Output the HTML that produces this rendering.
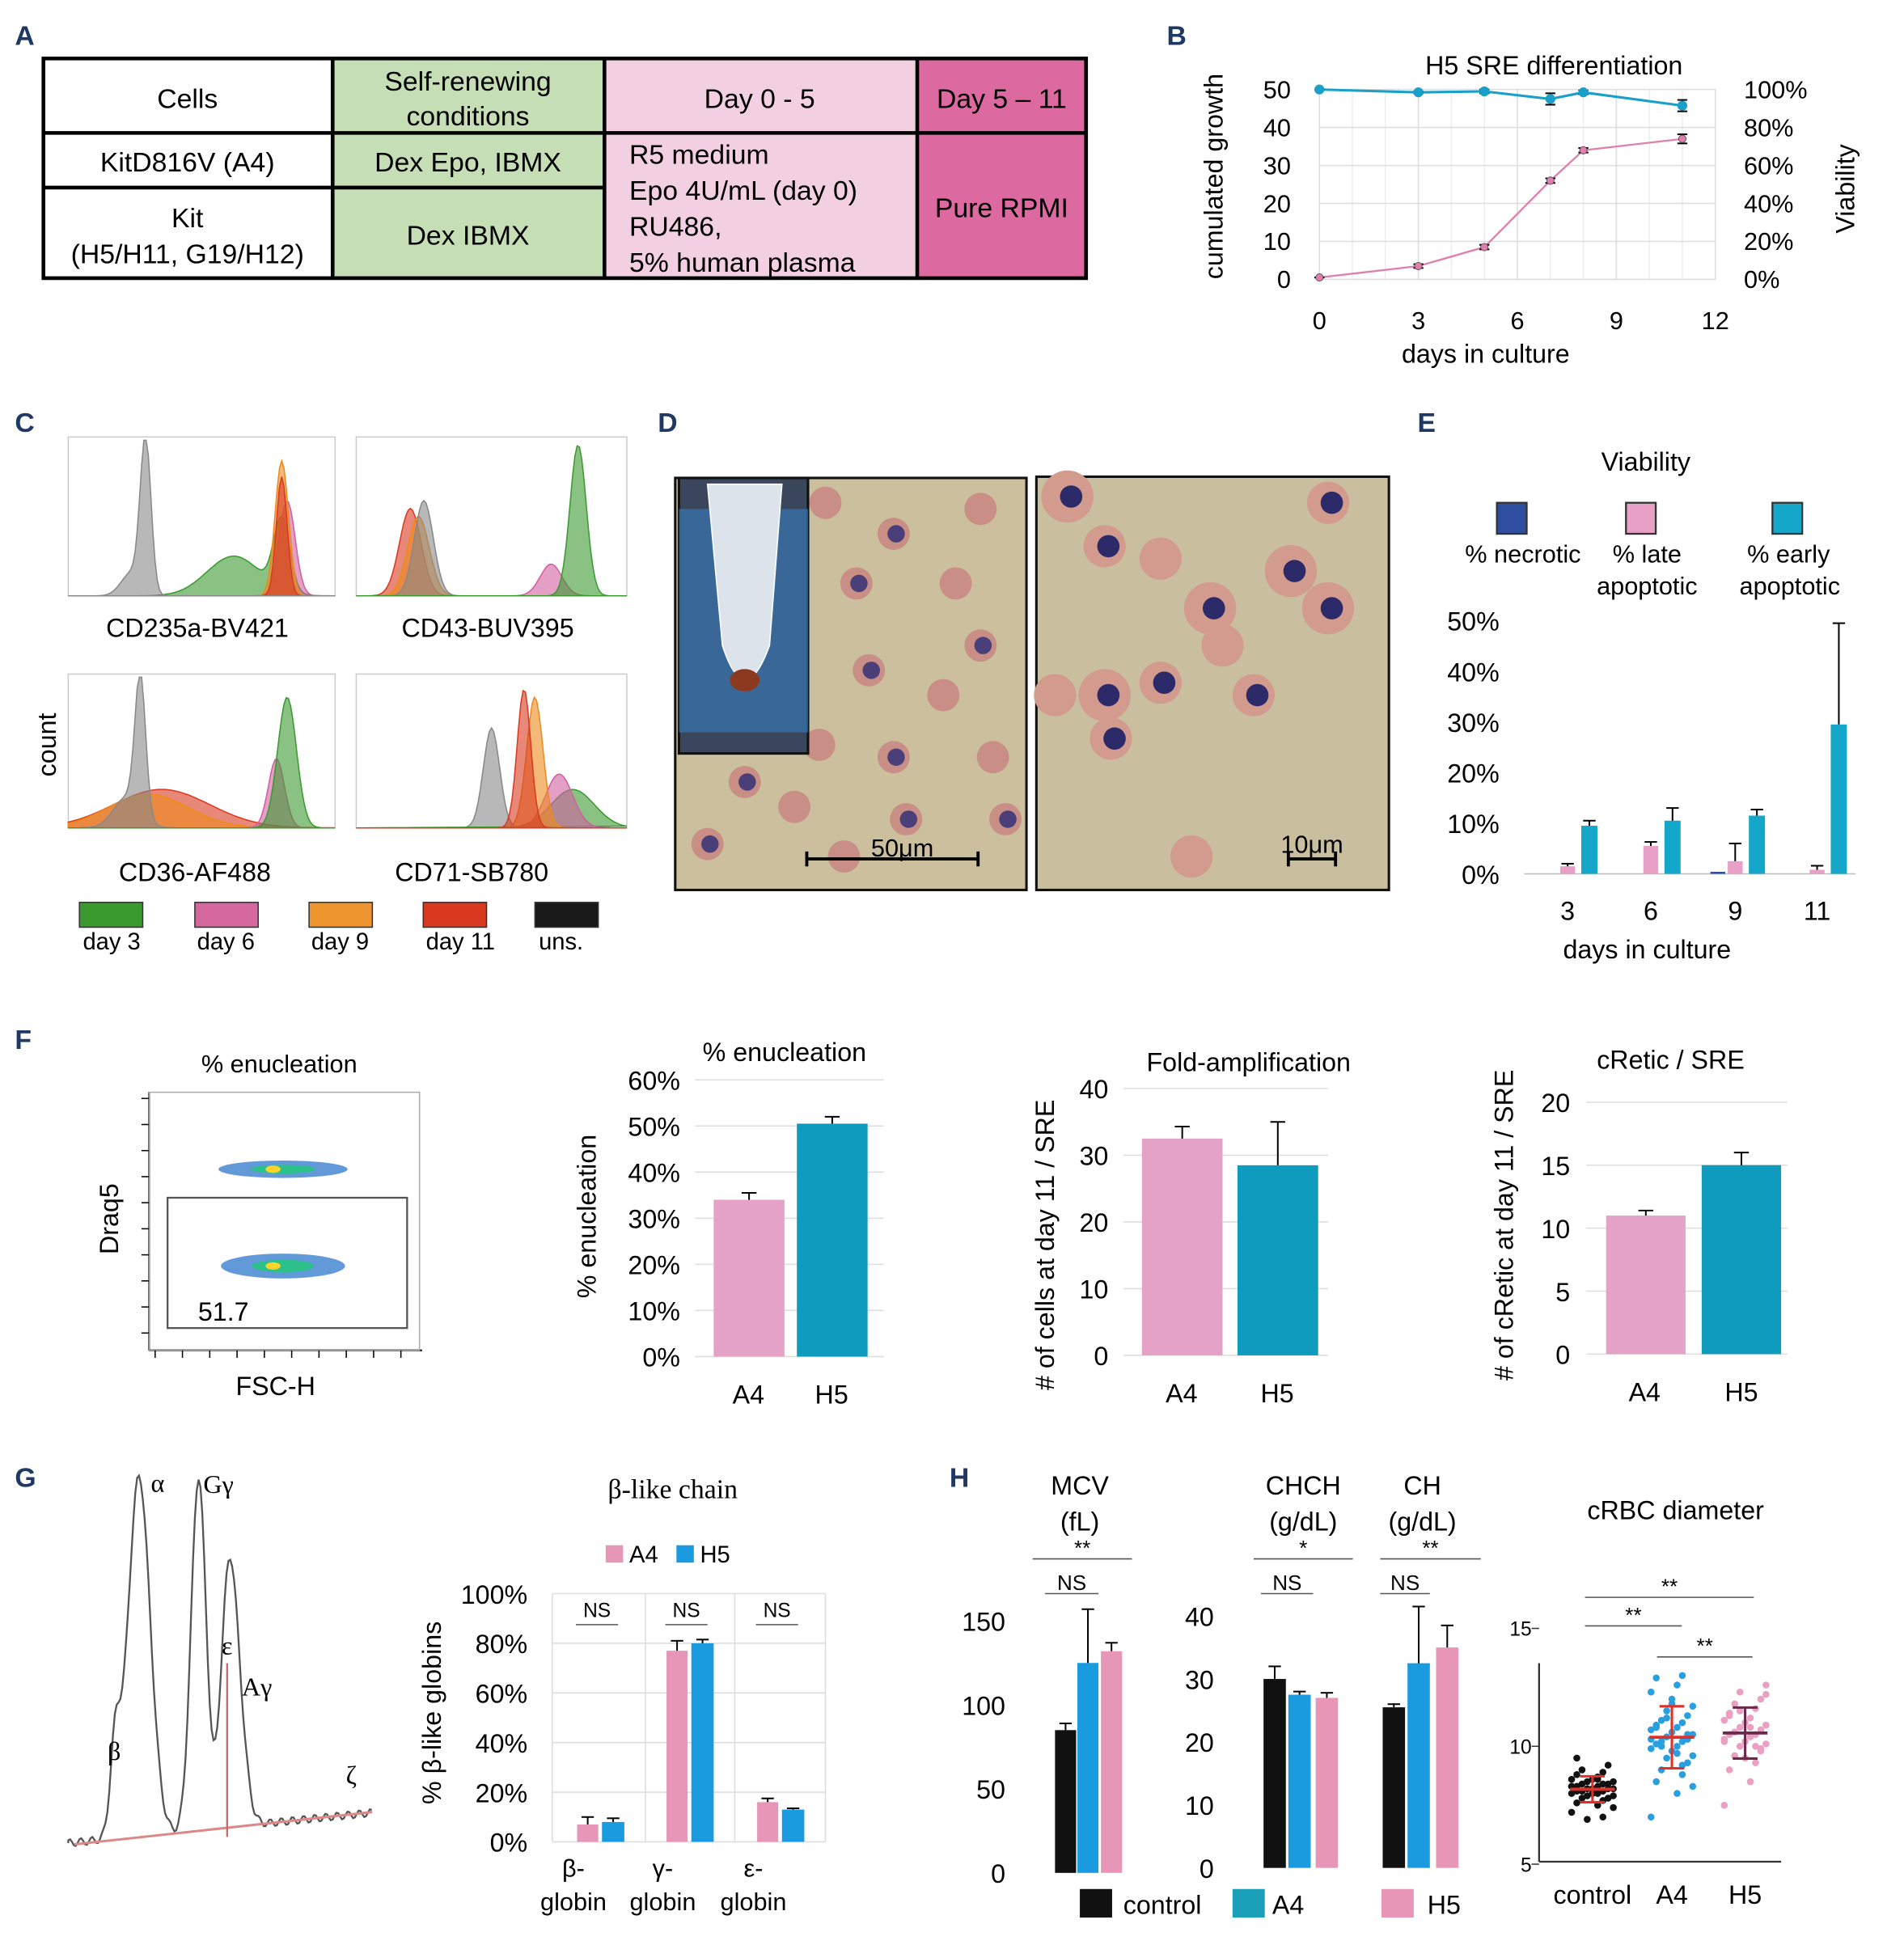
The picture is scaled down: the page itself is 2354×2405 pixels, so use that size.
<!DOCTYPE html>
<html><head><meta charset="utf-8"><style>
html,body{margin:0;padding:0;background:#fff;}
svg{display:block;font-family:"Liberation Sans",sans-serif;}
</style></head><body>
<svg id="fig" width="2354" height="2405" viewBox="0 0 1534 1567" xmlns="http://www.w3.org/2000/svg">
<rect width="1534" height="1567" fill="#fff"/>
<g font-weight="bold" fill="#1f3864" font-size="22">
<text x="12" y="36">A</text><text x="940" y="36">B</text><text x="12" y="348">C</text><text x="530" y="348">D</text><text x="1142" y="348">E</text><text x="12" y="845">F</text><text x="12" y="1198">G</text><text x="765" y="1198">H</text>
</g>
<g font-size="22" text-anchor="middle">
<rect x="35" y="47" width="233" height="177" fill="#fff"/>
<rect x="268" y="47" width="219" height="177" fill="#c6deb5"/>
<rect x="487" y="47" width="252" height="177" fill="#f3cfe2"/>
<rect x="739" y="47" width="136" height="177" fill="#dc6aa0"/>
<g stroke="#000" stroke-width="3" fill="none">
<rect x="35" y="47" width="840" height="177"/>
<line x1="35" y1="107" x2="875" y2="107"/><line x1="35" y1="151" x2="487" y2="151"/>
<line x1="268" y1="47" x2="268" y2="224"/><line x1="487" y1="47" x2="487" y2="224"/><line x1="739" y1="47" x2="739" y2="224"/>
</g>
<text x="151" y="87">Cells</text><text x="377" y="73">Self-renewing</text><text x="377" y="101">conditions</text>
<text x="612" y="87">Day 0 - 5</text><text x="807" y="87">Day 5 – 11</text>
<text x="151" y="138">KitD816V (A4)</text><text x="377" y="138">Dex Epo, IBMX</text>
<text x="151" y="183">Kit</text><text x="151" y="212">(H5/H11, G19/H12)</text><text x="377" y="197">Dex IBMX</text>
<text x="807" y="175">Pure RPMI</text>
<g text-anchor="start"><text x="507" y="132">R5 medium</text><text x="507" y="161">Epo 4U/mL (day 0)</text><text x="507" y="190">RU486,</text><text x="507" y="219">5% human plasma</text></g>
</g>
<g id="micro"></g>
</svg>
<script>
const NS='http://www.w3.org/2000/svg';
const svg=document.getElementById('fig');
function mk(tag,attrs,parent){const e=document.createElementNS(NS,tag);for(const k in attrs)e.setAttribute(k,attrs[k]);(parent||svg).appendChild(e);return e;}
function txt(x,y,s,size,anchor,extra,parent){const e=mk('text',Object.assign({x:x,y:y,'font-size':size||20,'text-anchor':anchor||'middle'},extra||{}),parent);e.textContent=s;return e;}
function lin(v,v0,v1,p0,p1){return p0+(v-v0)/(v1-v0)*(p1-p0);}
function errbar(x,y1,y2,cap,parent){mk('line',{x1:x,y1:y1,x2:x,y2:y2,stroke:'#000','stroke-width':1.3},parent);mk('line',{x1:x-cap,y1:y2,x2:x+cap,y2:y2,stroke:'#000','stroke-width':1.3},parent);}

/* ---------- B data ---------- */
const bDays=[0,3,5,7,8,11];
const bGrowth=[0.5,3.5,8.5,26,34,37];
const bGrowthErr=[0,0.5,0.6,0.6,0.6,1.2];
const bViab=[100,98.5,99,95,98.5,91.5];
const bViabErr=[0,0.5,1,3,1,3];
const bLeftTicks=[0,10,20,30,40,50];
const bRightTicks=['0%','20%','40%','60%','80%','100%'];
const bXTicks=[0,3,6,9,12];
/* ---------- E data ---------- */
const eDays=['3','6','9','11'];
const eNecrotic=[0,0,0.4,0];
const eLate=[1.5,5.5,2.5,0.8];
const eLateErr=[0.5,0.8,3.5,0.8];
const eEarly=[9.5,10.5,11.5,29.5];
const eEarlyErr=[1,2.5,1.2,20];
const ePctTicks=['0%','10%','20%','30%','40%','50%'];
/* ---------- F data ---------- */
const fCats=['A4','H5'];
const fEnuc=[34,50.5];const fEnucErr=[1.5,1.5];
const fFold=[32.5,28.5];const fFoldErr=[1.8,6.5];
const fRetic=[11,15];const fReticErr=[0.4,1];
const fEnucTicks=['0%','10%','20%','30%','40%','50%','60%'];
const fFoldTicks=[0,10,20,30,40];
const fReticTicks=[0,5,10,15,20];
/* ---------- G data ---------- */
const gCats=['β-','γ-','ε-'];
const gA4=[7,77,16];const gA4Err=[3,4,1.5];
const gH5=[8,80,13];const gH5Err=[1.5,1.5,0.5];
const gTicks=['0%','20%','40%','60%','80%','100%'];
/* ---------- H data ---------- */
const hMCV=[85,125,132];const hMCVErr=[4,32,5];
const hCHCH=[30,27.5,27];const hCHCHErr=[2,0.5,0.8];
const hCH=[25.5,32.5,35];const hCHErr=[0.5,9,3.5];
const hMCVTicks=[0,50,100,150];
const hCTicks=[0,10,20,30,40];
const hDiamControl=[7.2,7.5,7.6,7.7,7.8,7.8,7.9,7.9,8.0,8.0,8.0,8.1,8.1,8.1,8.2,8.2,8.2,8.2,8.3,8.3,8.3,8.4,8.4,8.4,8.5,8.5,8.6,8.6,8.7,8.8,8.9,9.0,9.2,6.9,7.4,8.0,8.3,8.6,9.5,7.0];
const hDiamA4=[7.0,8.0,8.5,8.8,9.0,9.3,9.5,9.6,9.8,9.9,10.0,10.1,10.2,10.2,10.3,10.4,10.5,10.6,10.7,10.8,10.9,11.0,11.1,11.3,11.5,11.7,12.0,12.3,12.6,12.9,9.2,10.0,10.5,11.2,8.3,11.8,10.3,9.7,10.8,13.0];
const hDiamH5=[7.5,8.5,9.0,9.3,9.6,9.8,10.0,10.1,10.2,10.3,10.4,10.5,10.5,10.6,10.7,10.8,10.9,11.0,11.1,11.2,11.4,11.6,11.8,12.0,12.3,12.6,9.5,10.2,10.8,11.3,10.0,10.6,9.9,11.5,12.2];
const hDiamTicks=[5,10,15];

const TEAL='#0e9bbd',PINK='#e4a3c6',BLUE='#1a9be0',GP='#e896b8';

/* ================= Panel B ================= */
(function(){
const g=mk('g',{});


const X=d=>lin(d,0,12,1063,1382),YL=v=>lin(v,0,50,225,72),YR=v=>lin(v,0,100,225,72);
bXTicks.forEach(t=>{mk('line',{x1:X(t),y1:72,x2:X(t),y2:225,stroke:'#ddd','stroke-width':1},g);});
for(let d=1;d<12;d++){if(d%3)mk('line',{x1:X(d),y1:72,x2:X(d),y2:225,stroke:'#eee','stroke-width':1},g);}
bLeftTicks.forEach(t=>{mk('line',{x1:1063,y1:YL(t),x2:1382,y2:YL(t),stroke:'#ddd'},g);const l=txt(1040,YL(t)+7,String(t),20,'end',{},g);});
bRightTicks.forEach((t,i)=>{const l=txt(1405,YR(i*20)+7,t,20,'start',{},g);});
bXTicks.forEach(t=>{const l=txt(X(t),265,String(t),20,'middle',{},g);});
const tt=txt(1252,60,'H5 SRE differentiation',21,'middle',{},g);
const xt=txt(1197,292,'days in culture',21,'middle',{},g);
const yl=txt(0,0,'cumulated growth',21,'middle',{transform:'translate(985,142) rotate(-90)'},g);
const yr=txt(0,0,'Viability',21,'middle',{transform:'translate(1494,152) rotate(-90)'},g);
const pv=mk('polyline',{points:bDays.map((d,i)=>X(d)+','+YR(bViab[i])).join(' '),fill:'none',stroke:'#1aa0c8','stroke-width':2},g);

const pg=mk('path',{d:'',fill:'none',stroke:'#e07fae','stroke-width':1.5},g);
pg.setAttribute('d','M'+bDays.map((d,i)=>X(d)+','+YL(bGrowth[i])).join(' L'));

bDays.forEach((d,i)=>{
 errbar(X(d),YR(bViab[i]-bViabErr[i]),YR(bViab[i]+bViabErr[i]),4,g);errbar(X(d),YR(bViab[i]+bViabErr[i]),YR(bViab[i]-bViabErr[i]),4,g);
 const c=mk('circle',{cx:X(d),cy:YR(bViab[i]),r:4,fill:'#1aa0c8'},g);
 errbar(X(d),YL(bGrowth[i]-bGrowthErr[i]),YL(bGrowth[i]+bGrowthErr[i]),4,g);errbar(X(d),YL(bGrowth[i]+bGrowthErr[i]),YL(bGrowth[i]-bGrowthErr[i]),4,g);
 const p=mk('circle',{cx:X(d),cy:YL(bGrowth[i]),r:3,fill:'#e07fae',stroke:'#555','stroke-width':0.6},g);
});
})();

/* ================= Panel C histograms (decorative) ================= */
(function(){
const g=mk('g',{});


const cols={g:'#3a9a2f',p:'#d15fa0',o:'#ee8a1c',r:'#d9391f',k:'#888'};
const boxes=[
 {x:55,y:352,w:215,h:128,label:'CD235a-BV421',lx:159,ly:513,s:[['g',[[0.62,0.1,0.25],[0.8,0.03,0.45]]],['p',[[0.82,0.03,0.6]]],['o',[[0.8,0.025,0.85]]],['r',[[0.8,0.02,0.75]]],['k',[[0.29,0.02,0.95],[0.24,0.04,0.15]]]]},
 {x:287,y:352,w:218,h:128,label:'CD43-BUV395',lx:393,ly:513,s:[['r',[[0.2,0.04,0.55]]],['o',[[0.23,0.04,0.5]]],['k',[[0.25,0.035,0.6]]],['p',[[0.72,0.04,0.2]]],['g',[[0.82,0.03,0.95]]]]},
 {x:55,y:543,w:215,h:124,label:'CD36-AF488',lx:157,ly:710,s:[['r',[[0.35,0.18,0.25]]],['o',[[0.3,0.15,0.22]]],['k',[[0.27,0.02,0.9],[0.22,0.05,0.2]]],['p',[[0.78,0.03,0.45]]],['g',[[0.82,0.035,0.85]]]]},
 {x:287,y:543,w:218,h:124,label:'CD71-SB780',lx:380,ly:710,s:[['k',[[0.5,0.03,0.65]]],['g',[[0.8,0.08,0.25]]],['p',[[0.75,0.05,0.35]]],['o',[[0.66,0.03,0.85]]],['r',[[0.62,0.025,0.9]]]]}
];
boxes.forEach(b=>{
 const r=mk('rect',{x:b.x,y:b.y,width:b.w,height:b.h,fill:'#fff',stroke:'#ccc'},g);
 b.s.forEach(([c,pk])=>{
  let d='M'+b.x+','+(b.y+b.h);
  for(let i=0;i<=120;i++){const f=i/120;let v=0;pk.forEach(([m,s,h])=>{v+=h*Math.exp(-((f-m)*(f-m))/(2*s*s));});v=Math.min(v,0.98);d+=' L'+(b.x+f*b.w).toFixed(1)+','+(b.y+b.h-v*b.h).toFixed(1);}
  d+=' Z';
  const p=mk('path',{d:d,fill:cols[c],'fill-opacity':0.6,stroke:cols[c],'stroke-width':1},g);
 });
 const l=txt(b.lx,b.ly,b.label,21,'middle',{},g);
});
const cl=txt(0,0,'count',21,'middle',{transform:'translate(45,600) rotate(-90)'},g);
const leg=[['#3a9a2f',64,'day 3',90],['#d5689f',157,'day 6',182],['#ee9530',249,'day 9',274],['#d9391f',341,'day 11',371],['#1a1a1a',431,'uns.',452]];
leg.forEach(([c,x,t,tx])=>{const s=mk('rect',{x:x,y:727,width:51,height:20,fill:c,stroke:'#333'},g);const l=txt(tx,765,t,19,'middle',{},g);});
})();

/* ================= Panel D micrographs (decorative) ================= */
(function(){
const g=document.getElementById('micro');
mk('rect',{x:544,y:385,width:283,height:332,fill:'#cbbf9e',stroke:'#111','stroke-width':2},g);
mk('rect',{x:835,y:384,width:284,height:333,fill:'#c9bf9f',stroke:'#111','stroke-width':2},g);
const cells1=[[600,400],[665,405],[720,430],[790,410],[690,470],[770,470],[600,630],[640,650],[700,540],[760,560],[720,610],[800,610],[570,680],[680,690],[730,660],[660,600],[790,520],[565,560],[810,660]];
cells1.forEach(([x,y],i)=>{mk('circle',{cx:x,cy:y,r:13,fill:'#c98f86'},g);if(i%2==0)mk('circle',{cx:x+2,cy:y,r:7,fill:'#4a3f78'},g);});
const cells2=[[860,400],[890,440],[935,450],[975,490],[1070,405],[850,560],[890,560],[935,550],[985,520],[1040,460],[895,595],[960,690],[1070,490],[1010,560]];
cells2.forEach(([x,y],i)=>{mk('circle',{cx:x,cy:y,r:i%3==0?21:17,fill:'#d39a8e'},g);if(i%3!=2)mk('circle',{cx:x+3,cy:y,r:9,fill:'#2d2a6a'},g);});
mk('rect',{x:547,y:385,width:104,height:222,fill:'#39465c',stroke:'#111','stroke-width':2},g);
mk('rect',{x:547,y:410,width:104,height:180,fill:'#3a7fc0','fill-opacity':0.6},g);
mk('path',{d:'M570,390 L630,390 L620,520 Q600,575 582,520 Z',fill:'#dde3ea',stroke:'#fff'},g);
mk('ellipse',{cx:600,cy:548,rx:12,ry:9,fill:'#8b3a20'},g);
mk('line',{x1:650,y1:692,x2:788,y2:692,stroke:'#000','stroke-width':2.5},g);
mk('line',{x1:650,y1:686,x2:650,y2:698,stroke:'#000','stroke-width':2.5},g);
mk('line',{x1:788,y1:686,x2:788,y2:698,stroke:'#000','stroke-width':2.5},g);
txt(727,690,'50μm',20,'middle',{},g);
mk('line',{x1:1038,y1:692,x2:1076,y2:692,stroke:'#000','stroke-width':2.5},g);
mk('line',{x1:1038,y1:686,x2:1038,y2:698,stroke:'#000','stroke-width':2.5},g);
mk('line',{x1:1076,y1:686,x2:1076,y2:698,stroke:'#000','stroke-width':2.5},g);
txt(1057,687,'10μm',20,'middle',{},g);
})();

/* ================= Panel E ================= */
(function(){
const g=mk('g',{});


const Y=v=>lin(v,0,50,704,500);const cx=[1263,1330,1398,1464];
const t=txt(1326,379,'Viability',21,'middle',{},g);
[['#2e4fa0',1206],['#e8a0c6',1310],['#15a7c9',1428]].forEach(([c,x])=>{const s=mk('rect',{x:x,y:405,width:24,height:25,fill:c,stroke:'#333','stroke-width':1.5},g);});
[['% necrotic',1227,453],['% late',1327,453],['apoptotic',1327,479],['% early',1441,453],['apoptotic',1442,479]].forEach(([s,x,y])=>{const l=txt(x,y,s,20,'middle',{},g);});
ePctTicks.forEach((s,i)=>{const l=txt(1208,Y(i*10)+8,s,21,'end',{},g);});
mk('line',{x1:1228,y1:704,x2:1495,y2:704,stroke:'#bbb'},g);
eDays.forEach((d,i)=>{
 const l=txt(cx[i],741,d,21,'middle',{},g);
 const n=mk('rect',{x:cx[i]-20,y:Y(eNecrotic[i]),width:12,height:704-Y(eNecrotic[i]),fill:'#2e4fa0'},g);
 const la=mk('rect',{x:cx[i]-6,y:Y(eLate[i]),width:12,height:704-Y(eLate[i]),fill:'#e8a0c6'},g);
 errbar(cx[i],Y(eLate[i]),Y(eLate[i]+eLateErr[i]),5,g);
 const e=mk('rect',{x:cx[i]+11,y:Y(eEarly[i]),width:13,height:704-Y(eEarly[i]),fill:'#15a7c9'},g);
 errbar(cx[i]+17.5,Y(eEarly[i]),Y(eEarly[i]+eEarlyErr[i]),5,g);
});
const xt=txt(1327,772,'days in culture',21,'middle',{},g);
})();

/* ================= Panel F ================= */
(function(){
const g=mk('g',{});


txt(225,864,'% enucleation',20,'middle',{},g);
mk('line',{x1:120,y1:880,x2:120,y2:1088,stroke:'#000','stroke-width':1.5},g);
mk('line',{x1:120,y1:1088,x2:340,y2:1088,stroke:'#000','stroke-width':1.5},g);
mk('rect',{x:120,y:880,width:218,height:208,fill:'none',stroke:'#aaa'},g);
for(let i=0;i<10;i++){mk('line',{x1:114,y1:885+i*21,x2:120,y2:885+i*21,stroke:'#000'},g);mk('line',{x1:125+i*22,y1:1088,x2:125+i*22,y2:1094,stroke:'#000'},g);}
mk('rect',{x:135,y:965,width:193,height:105,fill:'none',stroke:'#555','stroke-width':1.5},g);
[[228,942,52,7],[228,1020,50,10]].forEach(([x,y,rx,ry])=>{mk('ellipse',{cx:x,cy:y,rx:rx,ry:ry,fill:'#3a7fd0','fill-opacity':0.8},g);mk('ellipse',{cx:x,cy:y,rx:rx*0.5,ry:ry*0.5,fill:'#2cc08a'},g);mk('ellipse',{cx:x-8,cy:y,rx:6,ry:3,fill:'#ffd42a'},g);});
txt(180,1064,'51.7',21,'middle',{},g);
txt(0,0,'Draq5',21,'middle',{transform:'translate(95,982) rotate(-90)'},g);
txt(222,1124,'FSC-H',21,'middle',{},g);

function barPanel(name,vals,errs,ticks,vmax,y0,y1,tickX,grid,bx,bw,title,tpos,ytitle,ypos,xl){
 const gg=mk('g',{});
 
 
 const Y=v=>lin(v,0,vmax,y0,y1);
 ticks.forEach((t,i)=>{const yy=lin(i,0,ticks.length-1,y0,y1);mk('line',{x1:grid[0],y1:yy,x2:grid[1],y2:yy,stroke:'#ddd'},gg);const l=txt(tickX,yy+8,String(t),21,'end',{},gg);});
 vals.forEach((v,i)=>{const r=mk('rect',{x:bx[i],y:Y(v),width:bw,height:y0-Y(v),fill:i?TEAL:PINK},gg);errbar(bx[i]+bw/2,Y(v),Y(v+errs[i]),6,gg);const l=txt(xl[i],y0+38,fCats[i],21,'middle',{},gg);});
 const t=txt(tpos[0],tpos[1],title,21,'middle',{},gg);
 const yt=txt(0,0,ytitle,21,'middle',{transform:'translate('+ypos[0]+','+ypos[1]+') rotate(-90)'},gg);
}
barPanel('enucleation-bar-chart',fEnuc,fEnucErr,fEnucTicks,60,1093,870,548,[560,712],[575,642],57,'% enucleation',[632,855],'% enucleation',[480,980],[603,670]);
barPanel('fold-amplification-chart',fFold,fFoldErr,fFoldTicks,40,1092,877,893,[905,1070],[920,997],65,'Fold-amplification',[1006,863],'# of cells at day 11 / SRE',[849,1003],[952,1029]);
barPanel('cretic-per-sre-chart',fRetic,fReticErr,fReticTicks,20,1091,888,1265,[1278,1440],[1294,1371],64,'cRetic / SRE',[1346,861],'# of cRetic at day 11 / SRE',[1219,987],[1325,1403]);
})();

/* ================= Panel G ================= */
(function(){
const g=mk('g',{});


const pk=[[93,70,4],[112,290,9],[160,285,6],[183,140,6],[190,110,7]];
let d='M55,1485';
for(let x=55;x<=300;x+=1.5){let base=1485-(x-55)*0.1;let v=0;pk.forEach(([m,h,s])=>{v+=h*Math.exp(-((x-m)*(x-m))/(2*s*s));});v+=3*Math.sin(x*0.7);d+=' L'+x+','+(base-v).toFixed(1);}
mk('path',{d:d,fill:'none',stroke:'#555','stroke-width':1.5},g);
mk('line',{x1:60,y1:1486,x2:300,y2:1460,stroke:'#d88','stroke-width':2},g);
mk('line',{x1:183,y1:1340,x2:183,y2:1480,stroke:'#c66','stroke-width':1.5},g);
[['β',92,1418],['α',127,1202],['Gγ',176,1203],['ε',183,1333],['Aγ',207,1366],['ζ',283,1437]].forEach(([s,x,y])=>txt(x,y,s,21,'middle',{'font-family':'"Liberation Serif",serif'},g));
})();
(function(){
const g=mk('g',{});


const Y=v=>lin(v,0,100,1484,1284);const cx=[484,556,629];
const t=txt(542,1207,'β-like chain',22,'middle',{'font-family':'"Liberation Serif",serif'},g);
const s1=mk('rect',{x:488,y:1245,width:14,height:14,fill:GP},g);
txt(507,1259,'A4',19,'start',{},g);
const s2=mk('rect',{x:545,y:1245,width:14,height:14,fill:BLUE},g);
txt(564,1259,'H5',19,'start',{},g);
gTicks.forEach((s,i)=>{const yy=Y(i*20);mk('line',{x1:445,y1:yy,x2:665,y2:yy,stroke:'#ddd'},g);const l=txt(425,yy+8,s,21,'end',{},g);});
[445,520,592,665].forEach(x=>mk('line',{x1:x,y1:1284,x2:x,y2:1484,stroke:'#ddd'},g));
const yt=txt(0,0,'% β-like globins',21,'middle',{transform:'translate(355,1380) rotate(-90)'},g);
gCats.forEach((c,i)=>{
 const a=mk('rect',{x:cx[i]-19,y:Y(gA4[i]),width:17,height:1484-Y(gA4[i]),fill:GP},g);
 errbar(cx[i]-10.5,Y(gA4[i]),Y(gA4[i]+gA4Err[i]),5,g);
 const h=mk('rect',{x:cx[i]+1,y:Y(gH5[i]),width:18,height:1484-Y(gH5[i]),fill:BLUE},g);
 errbar(cx[i]+10,Y(gH5[i]),Y(gH5[i]+gH5Err[i]),5,g);
 const l1=txt(cx[i]-22,1512,c,20,'middle',{},g);
 txt(cx[i]-22,1539,'globin',20,'middle',{},g);
 txt(cx[i]-3,1303,'NS',16,'middle',{},g);
 mk('line',{x1:cx[i]-20,y1:1309,x2:cx[i]+14,y2:1309,stroke:'#555'},g);
});
})();

/* ================= Panel H ================= */
(function(){
const g=mk('g',{});


const cols=['#111',BLUE,GP];
function sig(x1,x2,y,s){mk('line',{x1:x1,y1:y,x2:x2,y2:y,stroke:'#555'},g);txt((x1+x2)/2,y-3,s,17,'middle',{},g);}
const Ym=v=>lin(v,0,150,1509,1306);
txt(870,1204,'MCV',21,'middle',{},g);txt(870,1233,'(fL)',21,'middle',{},g);
sig(832,912,1256,'**');sig(842,885,1284,'NS');
hMCVTicks.forEach(t=>{const l=txt(810,Ym(t)+8,String(t),21,'end',{},g);});
const mx=[850,868,887];
hMCV.forEach((v,i)=>{const r=mk('rect',{x:mx[i],y:Ym(v),width:17,height:1509-Ym(v),fill:cols[i]},g);errbar(mx[i]+8.5,Ym(v),Ym(v+hMCVErr[i]),5,g);});
const Yc=v=>lin(v,0,40,1505,1302);
txt(1050,1204,'CHCH',21,'middle',{},g);txt(1050,1233,'(g/dL)',21,'middle',{},g);
txt(1146,1204,'CH',21,'middle',{},g);txt(1146,1233,'(g/dL)',21,'middle',{},g);
sig(1010,1090,1256,'*');sig(1112,1193,1256,'**');sig(1016,1058,1284,'NS');sig(1112,1152,1284,'NS');
hCTicks.forEach(t=>{const l=txt(978,Yc(t)+8,String(t),21,'end',{},g);});
const c1=[1018,1038,1060],c2=[1114,1134,1157];
hCHCH.forEach((v,i)=>{const r=mk('rect',{x:c1[i],y:Yc(v),width:18,height:1505-Yc(v),fill:cols[i]},g);errbar(c1[i]+9,Yc(v),Yc(v+hCHCHErr[i]),5,g);});
hCH.forEach((v,i)=>{const r=mk('rect',{x:c2[i],y:Yc(v),width:18,height:1505-Yc(v),fill:cols[i]},g);errbar(c2[i]+9,Yc(v),Yc(v+hCHErr[i]),5,g);});
[['#111',870,'control',905],['#1a9fb8',993,'A4',1025],[GP,1113,'H5',1150]].forEach(([c,x,t,tx])=>{const s=mk('rect',{x:x,y:1522,width:26,height:23,fill:c},g);const l=txt(tx,1542,t,21,'start',{},g);});
const Yd=v=>lin(v,5,15,1502,1312);
const tt=txt(1350,1224,'cRBC diameter',21,'middle',{},g);
mk('line',{x1:1240,y1:1340,x2:1240,y2:1500,stroke:'#333','stroke-width':1.5},g);
mk('line',{x1:1240,y1:1500,x2:1435,y2:1500,stroke:'#333','stroke-width':1.5},g);
hDiamTicks.forEach(t=>{mk('line',{x1:1234,y1:Yd(t),x2:1240,y2:Yd(t),stroke:'#333'},g);const l=txt(1234,Yd(t)+6,String(t),16,'end',{},g);});
sig(1277,1355,1310,'**');sig(1277,1413,1287,'**');sig(1335,1412,1335,'**');
const groups=[[hDiamControl,1283,'#111','control'],[hDiamA4,1347,'#2a9fe0','A4'],[hDiamH5,1406,'#e9a0c2','H5']];
groups.forEach(([arr,cx,c,lab])=>{
 arr.forEach((v,i)=>{const p=mk('circle',{cx:cx+((i*5)%9-4)*4.2,cy:Yd(v),r:2.8,fill:c},g);});
 const m=arr.reduce((a,b)=>a+b,0)/arr.length;const sd=Math.sqrt(arr.reduce((a,b)=>a+(b-m)*(b-m),0)/(arr.length-1));
 const lc=lab==='H5'?'#6a2a4a':'#e0302a';
 mk('line',{x1:cx,y1:Yd(m-sd),x2:cx,y2:Yd(m+sd),stroke:lc,'stroke-width':2},g);
 mk('line',{x1:cx-10,y1:Yd(m+sd),x2:cx+10,y2:Yd(m+sd),stroke:lc,'stroke-width':2},g);
 mk('line',{x1:cx-10,y1:Yd(m-sd),x2:cx+10,y2:Yd(m-sd),stroke:lc,'stroke-width':2},g);
 mk('line',{x1:cx-18,y1:Yd(m),x2:cx+18,y2:Yd(m),stroke:lc,'stroke-width':2.5},g);
 const l=txt(cx,1534,lab,21,'middle',{},g);
});
})();
</script>
</body></html>
